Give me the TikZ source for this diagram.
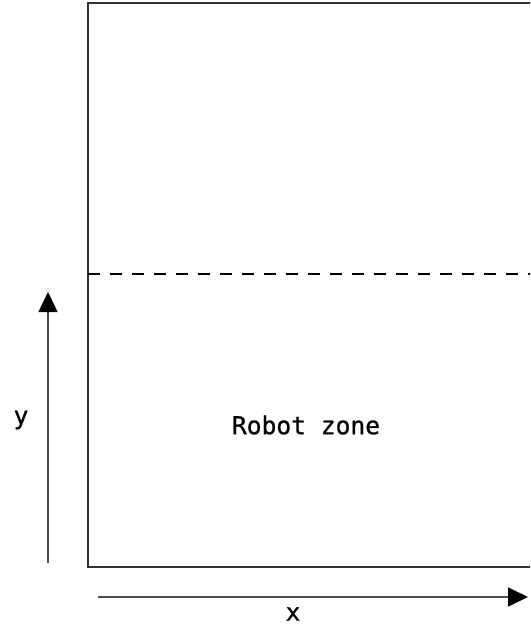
\documentclass[tikz,border=0pt]{standalone}
\usepackage{fontspec}
\setmonofont[FakeBold=0.8]{DejaVu Sans Mono}
\usetikzlibrary{arrows.meta}
\tikzset{
  frame/.style={line width=1.6pt, draw=black!80},
  axis/.style={line width=1.6pt, draw=black!70, -{Triangle[length=20pt,width=19pt,fill=black,color=black]}},
  zoneline/.style={line width=1.7pt, dash pattern=on 12pt off 10pt},
  lbl/.style={font=\ttfamily\fontsize{24.6}{28}\selectfont, text=black}
}
\begin{document}
\begin{tikzpicture}[x=1pt,y=-1pt]
\useasboundingbox (0,0) rectangle (530,631);
\clip (0,0) rectangle (530,631);
\coordinate (tl) at (88,3);
\coordinate (br) at (545,567);
\draw[frame] (tl) rectangle (br);
\coordinate (dl) at (88,274);
\coordinate (dr) at (545,274);
\draw[zoneline] (dl) -- (dr);
\coordinate (ys) at (48,563);
\coordinate (ye) at (48,292);
\draw[axis] (ys) -- (ye);
\coordinate (xs) at (98,597);
\coordinate (xe) at (528,597);
\draw[axis] (xs) -- (xe);
\node[lbl] (ylabel) at (21,420) {y};
\node[lbl] (zone) at (306,425) {Robot zone};
\node[lbl] (xlabel) at (293,614) {x};
\end{tikzpicture}
\end{document}
